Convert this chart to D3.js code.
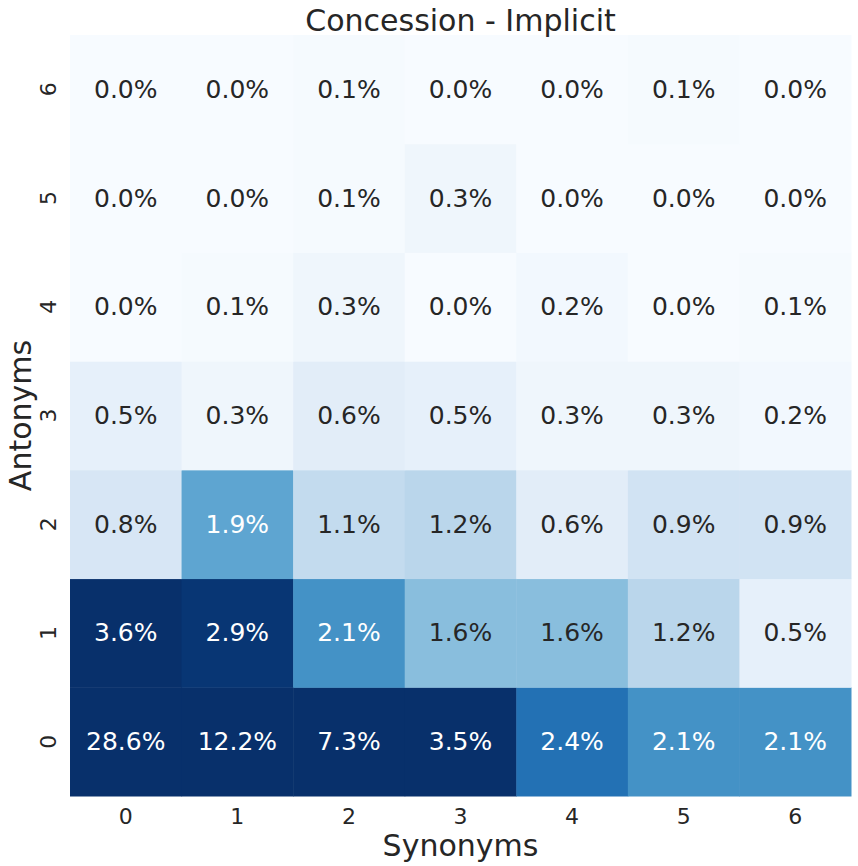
<!DOCTYPE html>
<html>
<head>
<meta charset="utf-8">
<script src="https://cdn.jsdelivr.net/npm/d3@7"></script>
<style>
  body { margin: 0; background: #fff; }
  text { font-family: "DejaVu Sans", sans-serif; fill: #262626; }
</style>
</head>
<body>
<svg id="chart" width="858" height="866"></svg>
<script>
const TITLE = "Concession - Implicit";
const synonyms = ["0", "1", "2", "3", "4", "5", "6"];   // x categories
const antonyms = ["0", "1", "2", "3", "4", "5", "6"];   // y categories

// percentages per antonym row (index = antonym count), columns = synonym count
const row0 = [28.6, 12.2, 7.3, 3.5, 2.4, 2.1, 2.1];
const row1 = [3.6, 2.9, 2.1, 1.6, 1.6, 1.2, 0.5];
const row2 = [0.8, 1.9, 1.1, 1.2, 0.6, 0.9, 0.9];
const row3 = [0.5, 0.3, 0.6, 0.5, 0.3, 0.3, 0.2];
const row4 = [0.0, 0.1, 0.3, 0.0, 0.2, 0.0, 0.1];
const row5 = [0.0, 0.0, 0.1, 0.3, 0.0, 0.0, 0.0];
const row6 = [0.0, 0.0, 0.1, 0.0, 0.0, 0.1, 0.0];
const rows = [row0, row1, row2, row3, row4, row5, row6];

const margin = { top: 35, right: 7, bottom: 70, left: 70 };
const svg = d3.select("#chart");
const width = +svg.attr("width") - margin.left - margin.right;
const height = +svg.attr("height") - margin.top - margin.bottom;

const g = svg.append("g").attr("transform", `translate(${margin.left},${margin.top})`);

const x = d3.scaleBand().domain(synonyms).range([0, width]);
// antonym 0 at the bottom
const y = d3.scaleBand().domain(antonyms.slice().reverse()).range([0, height]);

// colour saturates early, so squash the top end
const colorT = d3.scalePow().exponent(1.4).domain([0, 2.95]).range([0, 1]).clamp(true);
const color = v => d3.interpolateBlues(colorT(v));

const cells = [];
rows.forEach((r, i) => r.forEach((v, j) => cells.push({ ant: antonyms[i], syn: synonyms[j], v })));

function textColor(c) {
  const rgb = d3.rgb(c);
  const lin = u => { u /= 255; return u <= 0.03928 ? u / 12.92 : Math.pow((u + 0.055) / 1.055, 2.4); };
  const lum = 0.2126 * lin(rgb.r) + 0.7152 * lin(rgb.g) + 0.0722 * lin(rgb.b);
  return lum > 0.408 ? "#262626" : "#ffffff";
}

g.selectAll("rect.cell").data(cells).enter().append("rect")
  .attr("class", "cell")
  .attr("x", d => x(d.syn))
  .attr("y", d => y(d.ant))
  .attr("width", x.bandwidth() + 0.5)
  .attr("height", y.bandwidth() + 0.5)
  .attr("fill", d => color(d.v));

g.selectAll("text.annot").data(cells).enter().append("text")
  .attr("class", "annot")
  .attr("x", d => x(d.syn) + x.bandwidth() / 2)
  .attr("y", d => y(d.ant) + y.bandwidth() / 2)
  .attr("text-anchor", "middle")
  .attr("dominant-baseline", "central")
  .style("font-size", "25px")
  .style("fill", d => textColor(color(d.v)))
  .text(d => d.v.toFixed(1) + "%");

// axes without tick lines
const xAxis = g.append("g").attr("transform", `translate(0,${height})`)
  .call(d3.axisBottom(x).tickSize(0).tickPadding(12));
xAxis.select(".domain").remove();
xAxis.selectAll("text").style("font-size", "22px").attr("dy", "0.71em");

const yAxis = g.append("g").call(d3.axisLeft(y).tickSize(0).tickPadding(0));
yAxis.select(".domain").remove();
yAxis.selectAll(".tick text")
  .style("font-size", "22px")
  .attr("x", 0).attr("dy", null)
  .attr("text-anchor", "middle")
  .attr("transform", "translate(-22,0) rotate(-90)")
  .attr("dominant-baseline", "central");

svg.append("text")
  .attr("x", margin.left + width / 2)
  .attr("y", 20)
  .attr("text-anchor", "middle")
  .attr("dominant-baseline", "central")
  .style("font-size", "30px")
  .text(TITLE);

svg.append("text")
  .attr("x", margin.left + width / 2)
  .attr("y", 845)
  .attr("text-anchor", "middle")
  .attr("dominant-baseline", "central")
  .style("font-size", "30px")
  .text("Synonyms");

svg.append("text")
  .attr("transform", `translate(20,${margin.top + height / 2}) rotate(-90)`)
  .attr("text-anchor", "middle")
  .attr("dominant-baseline", "central")
  .style("font-size", "30px")
  .text("Antonyms");
</script>
</body>
</html>
